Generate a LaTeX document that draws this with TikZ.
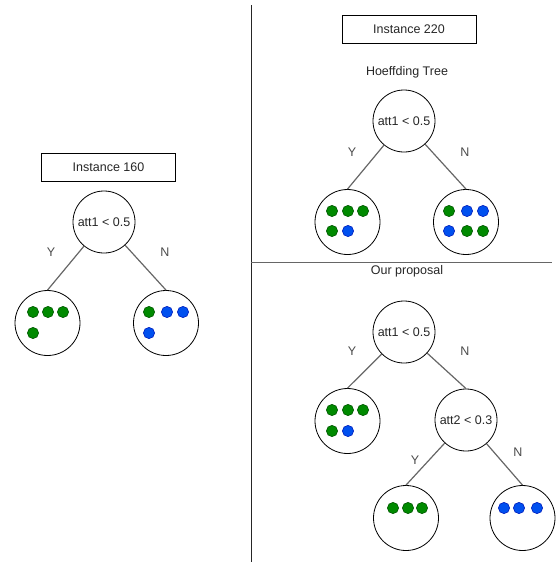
\documentclass[tikz,border=0pt]{standalone}
\usepackage{fontspec}
\setmainfont{Liberation Sans}
\usetikzlibrary{positioning}
\definecolor{dotgreen}{HTML}{008A00}
\definecolor{dotgreenline}{HTML}{005700}
\definecolor{dotblue}{HTML}{0050EF}
\definecolor{dotblueline}{HTML}{001DBC}

\begin{document}
\begin{tikzpicture}[
    x=1pt, y=-1pt,
    every node/.style={font=\fontsize{12.5}{15}\selectfont, text=black!85},
    title/.style={draw, line width=0.8pt, minimum width=134pt, minimum height=28pt},
    test/.style={circle, draw, line width=0.8pt, minimum size=62pt, inner sep=0pt},
    leaf/.style={circle, draw, line width=0.8pt, minimum size=65pt},
    branch/.style={draw=black!60, line width=1.2pt},
    lbl/.style={text=black!70},
    gdot/.style={fill=dotgreen, draw=dotgreenline, line width=0.6pt},
    bdot/.style={fill=dotblue, draw=dotblueline, line width=0.6pt}
]
    \useasboundingbox (0,0) rectangle (559,562);

    % Separators
    \draw[black!85, line width=0.9pt] (251,5) -- (251,562);
    \draw[black!60, line width=0.9pt] (251,262) -- (552,262);

    % Nodes: instance 160
    \node (inst160) [title] at (108.5,167) {Instance 160};
    \node (rootA) [test] at (104,222) {att1 < 0.5};
    \node (leafAY) [leaf] at (47.5,323) {};
    \node (leafAN) [leaf] at (166,323) {};
    \node (yA) [lbl] at (51,252) {Y};
    \node (nA) [lbl] at (165,252) {N};

    % Nodes: instance 220, Hoeffding tree
    \node (inst220) [title] at (409,29) {Instance 220};
    \node (htname) at (407,72) {Hoeffding Tree};
    \node (rootB) [test] at (404,121) {att1 < 0.5};
    \node (leafBY) [leaf] at (347.5,222) {};
    \node (leafBN) [leaf] at (466,222) {};
    \node (yB) [lbl] at (352,152) {Y};
    \node (nB) [lbl] at (465,152) {N};

    % Nodes: instance 220, our proposal
    \node (opname) at (407,271) {Our proposal};
    \node (rootC) [test] at (404,332) {att1 < 0.5};
    \node (leafCY) [leaf] at (347.5,421) {};
    \node (splitC) [test] at (466,420) {att2 < 0.3};
    \node (leafCNY) [leaf] at (406,518) {};
    \node (leafCNN) [leaf] at (522.5,518) {};
    \node (yC) [lbl] at (352,351) {Y};
    \node (nC) [lbl] at (465,351) {N};
    \node (yD) [lbl] at (415,460) {Y};
    \node (nD) [lbl] at (518,452) {N};

    % Edges
    \draw [branch] (rootA) -- (leafAY.north);
    \draw [branch] (rootA) -- (leafAN.north);
    \draw [branch] (rootB) -- (leafBY.north);
    \draw [branch] (rootB) -- (leafBN.north);
    \draw [branch] (rootC) -- (leafCY.north);
    \draw [branch] (rootC) -- (splitC.north);
    \draw [branch] (splitC) -- (leafCNY.north);
    \draw [branch] (splitC) -- (leafCNN.north);

    % Instances in the leaves
    \foreach \x/\y/\c in {33/312/gdot, 48/312/gdot, 63/312/gdot, 33/333/gdot,
                          149/312/gdot, 167/312/bdot, 183/312/bdot, 149/333/bdot,
                          332/211/gdot, 348/211/gdot, 363/211/gdot, 332/231/gdot, 348/231/bdot,
                          449/211/gdot, 467/211/bdot, 483/211/bdot, 449/231/bdot, 467/231/gdot, 483/231/gdot,
                          332/410/gdot, 348/410/gdot, 363/410/gdot, 332/431/gdot, 348/431/bdot,
                          393/508/gdot, 408/508/gdot, 422/508/gdot,
                          504/508/bdot, 519/508/bdot, 537/508/bdot}
        \draw [\c] (\x,\y) circle (5.6pt);
\end{tikzpicture}
\end{document}
